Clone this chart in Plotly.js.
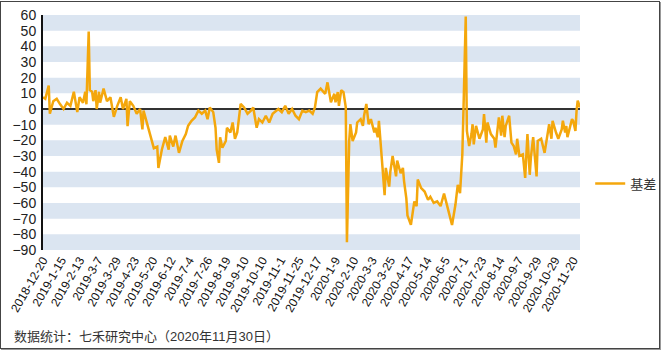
<!DOCTYPE html>
<html>
<head>
<meta charset="utf-8">
<script src="https://cdn.plot.ly/plotly-3.0.1.min.js"></script>
<style>
  html, body { margin: 0; padding: 0; background: #fff; }
  #frame { position: absolute; left: 0; top: 1px; width: 658px; height: 346px; border: 1px solid #444; box-shadow: 1px 1px 0 #999; background: #fff; }
  #chart { width: 658px; height: 346px; }
</style>
</head>
<body>
<div id="frame"><div id="chart"></div></div>
<script>
// Trading-day index (0 = 2018-12-20, 470 = 2020-11-30) and basis values
const dayIndex = [0,2,5,6,9,12,15,18,21,24,27,30,32,35,37,38,40,41,43,44,46,47,49,50,53,56,59,62,65,68,70,73,74,76,79,82,85,87,88,91,94,97,100,101,104,107,110,111,114,116,119,122,125,127,130,133,136,139,142,144,146,149,151,152,154,155,157,160,161,164,166,168,170,173,176,179,182,184,187,189,192,195,198,201,204,206,209,212,215,218,221,224,227,230,233,236,238,240,243,247,249,252,255,256,258,259,261,263,265,266,268,269,271,274,275,278,280,281,283,285,287,290,291,293,294,296,297,299,300,301,303,304,306,309,310,313,315,316,318,319,322,325,327,328,331,334,337,339,342,345,348,351,354,358,361,363,365,367,368,370,371,373,375,376,377,379,382,385,386,388,389,392,395,396,399,401,402,404,405,408,410,412,414,415,417,420,422,424,426,427,429,432,433,436,439,440,443,445,446,449,451,454,455,457,458,459,461,463,464,466,467,468,470];
const basis = [7.5,6.5,15,-3,5,6.5,3,0,4,2,11,-2,7.5,4,11,3,49.5,12,11,5,12,0,11,4,13,5,7.5,-5,2,7.5,0,6.5,-11,5,2,-3,0,-13,-1,-10,-17,-25,-24,-37.6,-26,-18,-26,-17,-24,-17,-28,-20.4,-16,-10.7,-7.5,-5.4,-1,-3,-1,-6.5,1,-2,-12,-26,-34.4,-18,-24.7,-20.4,-12,-15,-8.6,-19,-15,3.2,1,-3,-1,1,-12,-6.5,-8.6,-4.3,-8.6,-3,-1,0,-2,2,-3,0,-4.3,-6.5,-1,-2,-1,-3,1,10.8,13,9.7,17,4.3,9.7,4.3,10.8,2,12,10.8,1,-85,-20.4,-9.7,-20.4,-15,-8.6,-6.5,-10.7,-4.3,3.2,-9.7,-6.5,-15,-12,-18,-7.5,-27,-40,-55,-37.6,-42,-49.5,-40,-30,-43,-33,-41,-37.6,-46,-57,-68,-74,-59,-62,-45,-50.5,-52.7,-58,-56,-60,-59,-62,-54,-62,-74,-61,-48.4,-53.8,-29,-1,59,-14,-23.7,-16,-9.7,-22.6,-10.8,-19,-13,-3.2,-21.5,-8.6,-16,-19,-24.7,-5.4,-17,-4.3,-18,-10.8,-4.3,-21.5,-23.7,-29,-19,-30,-29,-44,-16,-42,-31,-18,-43,-20.4,-19,-28,-22.6,-9.7,-19,-7.5,-15,-19,-13,-7.5,-15,-10.8,-18,-13,-6.5,-7.5,-14,-1,5.4,1];

// Category tick labels (every 16 trading days)
const tickIndex = [0,16,32,48,64,80,96,112,128,144,160,176,192,208,224,240,256,272,288,304,320,336,352,368,384,400,416,432,448,464];
const tickLabels = ["2018-12-20","2019-1-15","2019-2-13","2019-3-7","2019-3-29","2019-4-23","2019-5-20","2019-6-12","2019-7-4","2019-7-26","2019-8-19","2019-9-10","2019-10-10","2019-11-1","2019-11-25","2019-12-17","2020-1-9","2020-2-10","2020-3-3","2020-3-25","2020-4-17","2020-5-14","2020-6-5","2020-7-1","2020-7-23","2020-8-14","2020-9-7","2020-9-29","2020-10-29","2020-11-20"];
const yTicks = [-90,-80,-70,-60,-50,-40,-30,-20,-10,0,10,20,30,40,50,60];
const seriesName = "基差";
const footnote = "数据统计：七禾研究中心（2020年11月30日）";

const FONT = "'Liberation Sans', Arial, 'Noto Sans CJK SC', sans-serif";

// alternating horizontal bands
const shapes = [];
for (let k = 0; k < yTicks.length - 1; k++) {
  if (k % 2 === 0) {
    shapes.push({type: 'rect', xref: 'paper', yref: 'y', x0: 0, x1: 1,
      y0: yTicks[k], y1: yTicks[k + 1], fillcolor: '#dbe5f1', line: {width: 0}, layer: 'below'});
  }
}

const trace = {
  x: dayIndex, y: basis, type: 'scatter', mode: 'lines', name: seriesName,
  line: {color: '#f4a70c', width: 2.5}
};

const layout = {
  width: 658, height: 346,
  margin: {l: 42, r: 79, t: 13, b: 98, autoexpand: false},
  paper_bgcolor: '#fff', plot_bgcolor: '#fff',
  font: {family: FONT, color: '#222'},
  showlegend: true,
  legend: {x: 1.019, y: 0.283, xanchor: 'left', yanchor: 'middle', itemwidth: 30,
           font: {size: 13, color: '#333', family: FONT}, bgcolor: 'rgba(0,0,0,0)'},
  xaxis: {
    range: [0, 470], tickmode: 'array', tickvals: tickIndex, ticktext: tickLabels,
    tickangle: -60, tickfont: {size: 12, color: '#111'}, showgrid: false, zeroline: false,
    showline: false, ticks: '', fixedrange: true, automargin: false
  },
  yaxis: {
    range: [-90, 60], tickmode: 'array', tickvals: yTicks, tickfont: {size: 14, color: '#222'},
    showgrid: false, zeroline: true, zerolinecolor: '#333', zerolinewidth: 1.5,
    showline: true, linecolor: '#111', linewidth: 2, ticks: '', ticklabelstandoff: 2, fixedrange: true, automargin: false
  },
  shapes: shapes,
  annotations: [{
    text: footnote, xref: 'paper', yref: 'paper', x: -0.057, y: -0.37,
    xanchor: 'left', yanchor: 'middle', showarrow: false,
    font: {size: 13, color: '#333', family: FONT}
  }]
};

Plotly.newPlot('chart', [trace], layout, {displayModeBar: false, staticPlot: true});
</script>
</body>
</html>
